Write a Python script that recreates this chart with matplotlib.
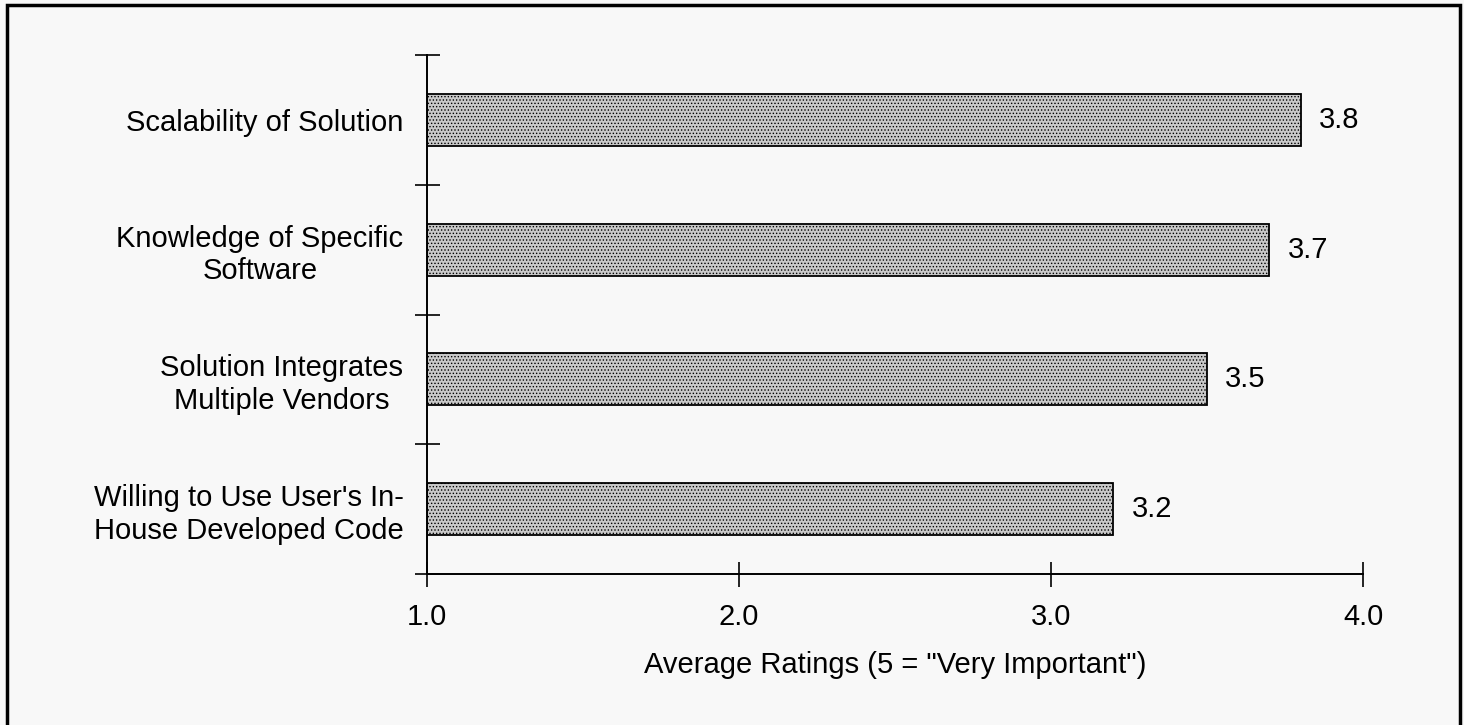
import matplotlib
matplotlib.use("Agg")
import matplotlib.pyplot as plt
from matplotlib.patches import Rectangle

categories = ["Scalability of Solution",
              "Knowledge of Specific\nSoftware",
              "Solution Integrates\nMultiple Vendors",
              "Willing to Use User's In-\nHouse Developed Code"]
values = [3.8, 3.7, 3.5, 3.2]
xticks = [1.0, 2.0, 3.0, 4.0]
xlabel = 'Average Ratings (5 = "Very Important")'

plt.rcParams['font.family'] = ['Liberation Sans', 'DejaVu Sans']
plt.rcParams['hatch.linewidth'] = 0.6
plt.rcParams['hatch.color'] = '#959595'

FS = 21
bg = '#f8f8f8'
fig = plt.figure(figsize=(14.64, 7.25), dpi=100, facecolor=bg)
ax = fig.add_axes([427/1464, 1 - 574/725, (1363 - 427)/1464, (574 - 55)/725])
ax.set_facecolor(bg)

n = len(categories)
ypos = list(range(n))[::-1]
ax.barh(ypos, [v - 1.0 for v in values], left=1.0, height=0.4,
        color='#c9c9c9', edgecolor='black', linewidth=1.3, hatch='.....')
for y, v in zip(ypos, values):
    ax.annotate(f"{v:.1f}", (v, y), xytext=(13, 0), textcoords='offset points',
                va='center', ha='left', fontsize=FS)

ax.set_xlim(1.0, 4.0)
ax.set_ylim(-0.5, n - 0.5)
ax.set_xticks(xticks)
ax.set_xticklabels([f"{t:.1f}" for t in xticks], fontsize=FS)
ax.set_yticks([i - 0.5 for i in range(n + 1)], minor=False)
ax.set_yticklabels([])
ax.set_yticks(ypos, minor=True)
ax.set_yticklabels(categories, minor=True, fontsize=FS, ha='right',
                   multialignment='center', linespacing=1.2)
ax.tick_params(axis='y', which='minor', length=0, pad=17)
ax.tick_params(axis='y', which='major', direction='inout', length=18, width=1.2)
ax.tick_params(axis='x', which='major', direction='inout', length=18, width=1.2, pad=12)
ax.set_xlabel(xlabel, fontsize=FS, labelpad=14)

for s in ['top', 'right']:
    ax.spines[s].set_visible(False)
for s in ['left', 'bottom']:
    ax.spines[s].set_linewidth(1.4)

fig.patches.append(Rectangle((7/1464, -0.02), (1460 - 7)/1464, 1.02 - 5/725,
                             transform=fig.transFigure, fill=False,
                             edgecolor='black', linewidth=2.5))

fig.savefig('out.png', dpi=100, facecolor=bg)
